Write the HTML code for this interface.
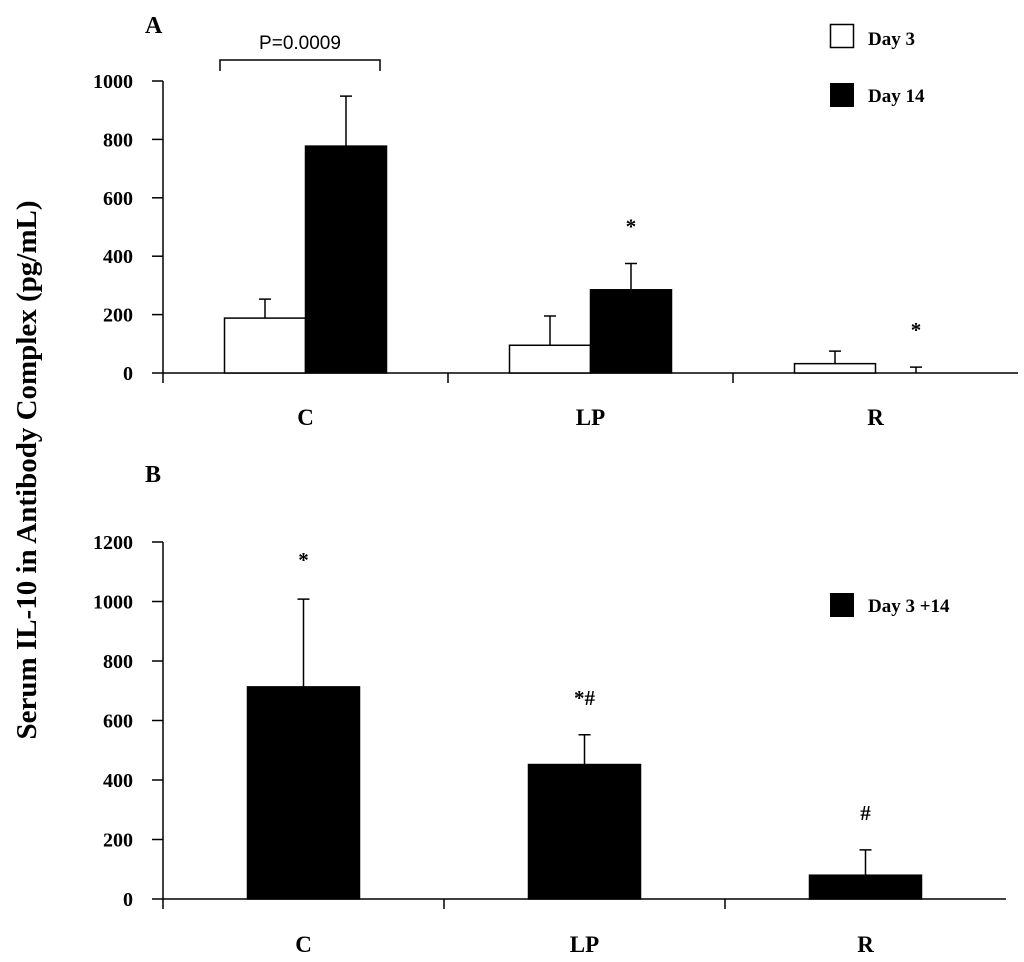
<!DOCTYPE html>
<html><head><meta charset="utf-8"><style>
html,body{margin:0;padding:0;background:#fff;}
svg{display:block;font-family:"Liberation Serif",serif;font-weight:bold;}
</style></head><body>
<svg id="chart" width="1024" height="962" viewBox="0 0 1024 962">
<text x="36" y="470" font-size="29" text-anchor="middle" transform="rotate(-90 36 470)">Serum IL-10 in Antibody Complex (pg/mL)</text>
<text x="145" y="33" font-size="24">A</text>
<text x="145" y="482" font-size="24">B</text>
<g id="a"></g>
<g id="b"></g>
<g>
<rect x="830.5" y="24.5" width="23" height="23" fill="#fff" stroke="#000" stroke-width="1.5"/>
<text x="868" y="45" font-size="19">Day 3</text>
<rect x="830" y="83" width="24" height="24" fill="#000"/>
<text x="868" y="102" font-size="19">Day 14</text>
</g>
<g>
<rect x="830" y="593" width="24" height="24" fill="#000"/>
<text x="868" y="612" font-size="19">Day 3 +14</text>
</g>
<g>
<path d="M220 71 V60 H380 V71" fill="none" stroke="#000" stroke-width="1.5"/>
<text x="300" y="49" font-size="19" font-weight="normal" text-anchor="middle" font-family="Liberation Sans">P=0.0009</text>
</g>
</svg>
<script>
const categories = ["C","LP","R"];
const aTicks = [0,200,400,600,800,1000];
const aDay3 = [188, 95, 32];
const aDay3Err = [253, 195, 75];
const aDay14 = [777, 285, 0];
const aDay14Err = [948, 375, 20];
const aMarks = ["", "*", "*"];
const bTicks = [0,200,400,600,800,1000,1200];
const bVals = [713, 452, 80];
const bErr = [1008, 552, 165];
const bMarks = ["*", "*#", "#"];

const NS = "http://www.w3.org/2000/svg";
function mk(parent, tag, attrs){const e=document.createElementNS(NS,tag);for(const k in attrs)e.setAttribute(k,attrs[k]);parent.appendChild(e);return e;}

function axes(g, x0, y0, yTop, maxV, catW, ticks){
  const y = v => y0 - (y0 - yTop) * v / maxV;
  const ax = mk(g,'path',{d:`M${x0} ${yTop} V${y0+10} M${x0} ${y0} H${x0+catW*categories.length}`,stroke:'#000','stroke-width':1.5,fill:'none'});
  
  
  ticks.forEach(t=>{
    const l = mk(g,'line',{x1:x0-11,x2:x0,y1:y(t),y2:y(t),stroke:'#000','stroke-width':1.5});
    
    
    const tx = mk(g,'text',{x:x0-30,y:y(t)+7,'font-size':20,'text-anchor':'end'});
    tx.textContent = t;
    
    
  });
  categories.forEach((c,i)=>{
    if(i>0){const l=mk(g,'line',{x1:x0+catW*i,x2:x0+catW*i,y1:y0,y2:y0+10,stroke:'#000','stroke-width':1.5});
      
      }
  });
  return y;
}
function bar(g,x,w,v,err,y,fill,name){
  if(v>0){
    const r=mk(g,'rect',{x:x,y:y(v),width:w,height:y(0)-y(v),fill:fill,stroke:'#000','stroke-width':1.5});
    
    
  }
  const cx=x+w/2;
  const e=mk(g,'path',{d:`M${cx} ${y(v)} V${y(err)} M${cx-6} ${y(err)} H${cx+6}`,stroke:'#000','stroke-width':1.5,fill:'none'});
  
  
}
function mark(g,x,yy,t){
  const m=mk(g,'text',{x:x,y:yy,'font-size':21,'text-anchor':'middle'});
  m.textContent=t;
  
  
}
function catLabels(g,x0,catW,yy){
  categories.forEach((c,i)=>{
    const t=mk(g,'text',{x:x0+catW*(i+0.5),y:yy,'font-size':23,'text-anchor':'middle'});
    t.textContent=c;
    
    
  });
}
// Panel A
(function(){
  const g=document.getElementById('a');
  const x0=163, catW=285, bw=81;
  const y=axes(g,x0,373,81,1000,catW,aTicks);
  categories.forEach((c,i)=>{
    const cx=x0+catW*(i+0.5);
    bar(g,cx-bw,bw,aDay3[i],aDay3Err[i],y,'#fff','bar-'+c.toLowerCase()+'-day3');
    bar(g,cx,bw,aDay14[i],aDay14Err[i],y,'#000','bar-'+c.toLowerCase()+'-day14');
    if(aMarks[i]) mark(g,cx+bw/2,y(aDay14Err[i])-30,aMarks[i]);
  });
  catLabels(g,x0,catW,425);
})();
// Panel B
(function(){
  const g=document.getElementById('b');
  const x0=163, catW=281, bw=112;
  const y=axes(g,x0,899,542,1200,catW,bTicks);
  categories.forEach((c,i)=>{
    const cx=x0+catW*(i+0.5);
    bar(g,cx-bw/2,bw,bVals[i],bErr[i],y,'#000','bar-'+c.toLowerCase()+'-day3-14');
    mark(g,cx,y(bErr[i])-(i===0?32:30),bMarks[i]);
  });
  catLabels(g,x0,catW,952);
})();
</script>
</body></html>
